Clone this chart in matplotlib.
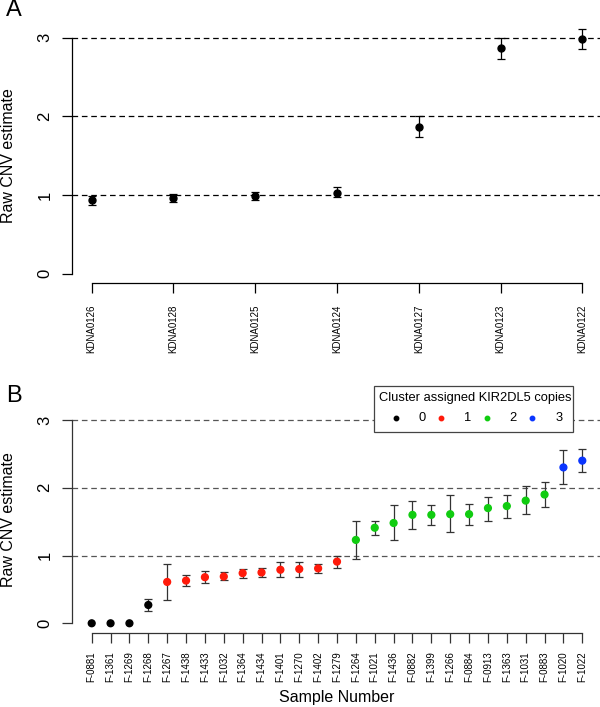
"""
Raw CNV estimates for KIR2DL5: reference cell lines (A) and samples (B).
"""

import numpy as np
import matplotlib
matplotlib.use("Agg")
import matplotlib.pyplot as plt
from matplotlib.patches import Rectangle
from matplotlib.lines import Line2D

plt.rcParams["font.family"] = ["Liberation Sans", "DejaVu Sans"]

# ---------------------------------------------------------------------------
# Data
# ---------------------------------------------------------------------------

kdna_ids = ["KDNA0126", "KDNA0128", "KDNA0125", "KDNA0124",
            "KDNA0127", "KDNA0123", "KDNA0122"]
kdna_est = [0.94, 0.96, 0.99, 1.03, 1.87, 2.87, 2.98]
kdna_lo  = [0.88, 0.91, 0.94, 0.97, 1.74, 2.73, 2.85]
kdna_hi  = [0.99, 1.02, 1.04, 1.10, 2.01, 3.00, 3.11]

sample_ids = ["F-0881", "F-1361", "F-1269", "F-1268", "F-1267", "F-1438",
              "F-1433", "F-1032", "F-1364", "F-1434", "F-1401", "F-1270",
              "F-1402", "F-1279", "F-1264", "F-1021", "F-1436", "F-0882",
              "F-1399", "F-1266", "F-0884", "F-0913", "F-1363", "F-1031",
              "F-0883", "F-1020", "F-1022"]
sample_est = [0.00, 0.00, 0.00, 0.27, 0.61, 0.63, 0.68, 0.69, 0.74, 0.75,
              0.79, 0.80, 0.81, 0.91, 1.23, 1.41, 1.48, 1.60, 1.60, 1.61,
              1.61, 1.70, 1.73, 1.81, 1.90, 2.30, 2.40]
sample_lo  = [0.00, 0.00, 0.00, 0.18, 0.35, 0.55, 0.59, 0.64, 0.67, 0.68,
              0.69, 0.68, 0.74, 0.82, 0.95, 1.31, 1.23, 1.39, 1.45, 1.34,
              1.45, 1.51, 1.56, 1.61, 1.72, 2.05, 2.23]
sample_hi  = [0.00, 0.00, 0.00, 0.36, 0.88, 0.71, 0.77, 0.75, 0.80, 0.81,
              0.90, 0.91, 0.88, 1.00, 1.51, 1.51, 1.74, 1.80, 1.74, 1.89,
              1.76, 1.87, 1.90, 2.02, 2.09, 2.55, 2.57]
sample_copies = [0, 0, 0, 0, 1, 1, 1, 1, 1, 1, 1, 1, 1, 1,
                 2, 2, 2, 2, 2, 2, 2, 2, 2, 2, 2, 3, 3]

copy_levels = [0, 1, 2, 3]
copy_colors = ["#000000", "#FF1A0A", "#10CC10", "#0A35FF"]
legend_title = "Cluster assigned KIR2DL5 copies"
ref_lines = [1, 2, 3]

# ---------------------------------------------------------------------------
# Layout helpers (figure is 600 x 707 px)
# ---------------------------------------------------------------------------

W, H = 600, 707


def fx(x):
    return x / W


def fy(y):
    return 1 - y / H


fig = plt.figure(figsize=(W / 100, H / 100), dpi=100)
axA = fig.add_axes([fx(71.7), fy(283.3), fx(600 - 71.7), (283.3 - 28.1) / H])
axB = fig.add_axes([fx(71.7), fy(632.7), fx(600 - 71.7), (632.7 - 376.5) / H])


def style_axis(ax, n, labels, ylim, axcolor, label_pad):
    ax.set_xlim(1 - 20 / ((582.3 - 91.7) / (n - 1)),
                n + 17.7 / ((582.3 - 91.7) / (n - 1)))
    ax.set_ylim(*ylim)
    for side in ("top", "right"):
        ax.spines[side].set_visible(False)
    ax.spines["left"].set_bounds(0, 3)
    ax.spines["bottom"].set_bounds(1, n)
    for side in ("left", "bottom"):
        ax.spines[side].set_color(axcolor)
        ax.spines[side].set_linewidth(0.9)
    ax.set_yticks([0, 1, 2, 3])
    ax.set_yticklabels(["0", "1", "2", "3"], rotation=90, va="center",
                       fontsize=12)
    ax.set_xticks(np.arange(1, n + 1))
    ax.set_xticklabels(labels, rotation=90, fontsize=7)
    ax.tick_params(axis="y", length=7.2, width=0.9, pad=6.8, color=axcolor)
    ax.tick_params(axis="x", length=7.2, width=0.9, pad=label_pad,
                   color=axcolor)


# ---------------------------------------------------------------------------
# Panel A
# ---------------------------------------------------------------------------

nA = len(kdna_ids)
xA = np.arange(1, nA + 1)
estA = np.array(kdna_est)
style_axis(axA, nA, kdna_ids, (-0.12, 3.12), "black", 8)
for y in ref_lines:
    axA.axhline(y, color="black", lw=0.9, ls=(0, (4.5, 3)), zorder=1)
axA.errorbar(xA, estA, yerr=[estA - np.array(kdna_lo), np.array(kdna_hi) - estA],
             fmt="none", ecolor="black", elinewidth=0.9, capsize=3.1,
             capthick=0.9, zorder=2, clip_on=False)
axA.scatter(xA, estA, s=25, color="black", zorder=3, clip_on=False)

# ---------------------------------------------------------------------------
# Panel B
# ---------------------------------------------------------------------------

nB = len(sample_ids)
xB = np.arange(1, nB + 1)
estB = np.array(sample_est)
loB = np.array(sample_lo)
hiB = np.array(sample_hi)
has_err = hiB > loB
style_axis(axB, nB, sample_ids, (-0.139, 3.642), "#333333", 6.3)
for y in ref_lines:
    axB.axhline(y, color="#555555", lw=0.9, ls=(0, (4.5, 3)), zorder=1)
axB.errorbar(xB[has_err], estB[has_err],
             yerr=[estB[has_err] - loB[has_err], hiB[has_err] - estB[has_err]],
             fmt="none", ecolor="#333333", elinewidth=0.9, capsize=3.1,
             capthick=0.9, zorder=2)
axB.scatter(xB, estB, s=24, color=[copy_colors[c] for c in sample_copies],
            zorder=3, clip_on=False)

# legend box, drawn by hand to match the R layout
fig.patches.append(Rectangle((fx(374.3), fy(432.3)), fx(573.3 - 374.3),
                             (432.3 - 385.7) / H, transform=fig.transFigure,
                             facecolor="white", edgecolor="#444444", lw=0.9,
                             zorder=5))
fig.text(fx(474.8), fy(398.3), legend_title, fontsize=9.3, ha="center",
         va="center", zorder=6)
for i, (lev, col) in enumerate(zip(copy_levels, copy_colors)):
    mx = 395.7 + i * 45.5
    fig.lines.append(Line2D([fx(mx)], [fy(417.7)], marker="o", ms=3.2,
                            color=col, transform=fig.transFigure, zorder=6))
    fig.text(fx(mx + 26.5), fy(417.7), str(lev), fontsize=9.3, ha="center",
             va="center", zorder=6)

# ---------------------------------------------------------------------------
# Labels
# ---------------------------------------------------------------------------

fig.text(fx(9), fy(155.7), "Raw CNV estimate", rotation=90, fontsize=11.5,
         ha="center", va="center")
fig.text(fx(9), fy(520), "Raw CNV estimate", rotation=90, fontsize=11.5,
         ha="center", va="center")
fig.text(fx(337), fy(697.5), "Sample Number", fontsize=11.5, ha="center",
         va="center")
fig.text(fx(14), fy(10), "A", fontsize=17, ha="center", va="center")
fig.text(fx(14), fy(395.5), "B", fontsize=17, ha="center", va="center")

fig.savefig("out.png", dpi=100)
